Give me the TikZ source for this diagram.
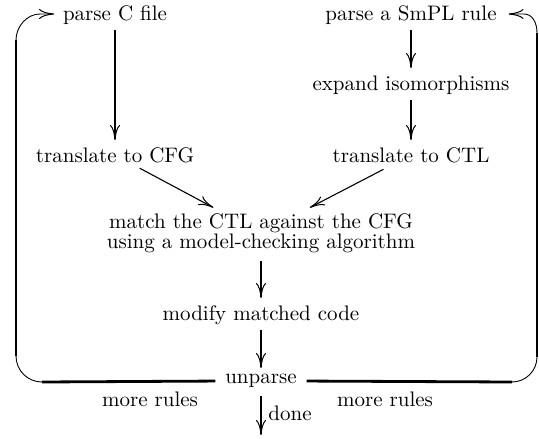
\documentclass[tikz,border=0pt]{standalone}
\usetikzlibrary{arrows.meta,calc}
\begin{document}
\begin{tikzpicture}[x=1pt,y=-1pt,
  txt/.style={font=\fontsize{10}{9.5}\selectfont, scale=2.1, inner sep=0pt, outer sep=0pt},
  tip/.style={-{Computer Modern Rightarrow[length=15pt,width=10pt,line width=1pt]}},
  heavy/.style={line width=2.8pt},
  light/.style={line width=0.9pt},
  diag/.style={line width=1.1pt}]
\useasboundingbox (0,0) rectangle (539,439);
% nodes
\node[txt] (pc)   at (115,15)  {parse C file};
\node[txt] (ps)   at (411,15)  {parse a SmPL rule};
\node[txt] (ex)   at (411,85)  {expand isomorphisms};
\node[txt] (tcfg) at (115,155) {translate to CFG};
\node[txt] (tctl) at (411,155) {translate to CTL};
\node[txt, align=center] (match) at (261,233) {match the CTL against the CFG\\using a model-checking algorithm};
\node[txt] (mod)  at (261,315) {modify matched code};
\node[txt] (unp)  at (261,381) {unparse};
\node[txt] (mrl)  at (150,399) {more rules};
\node[txt] (mrr)  at (385,399) {more rules};
\node[txt] (done) at (290,413) {done};
\coordinate (fin) at (261,435);
% corner points of the loops
\coordinate (lb1) at (42,382);
\coordinate (lb2) at (16,356);
\coordinate (lt1) at (16,40);
\coordinate (lt2) at (40,14);
\coordinate (rb1) at (512,382);
\coordinate (rb2) at (537,357);
\coordinate (rt1) at (537,33);
\coordinate (rt2) at (524,14);
% vertical arrows
\draw[heavy,tip,shorten <=15pt,shorten >=15pt] (pc.center) -- (tcfg.center);
\draw[heavy,tip,shorten <=15pt,shorten >=17pt] (ps.center) -- (ex.center);
\draw[heavy,tip,shorten <=15pt,shorten >=15pt] (ex.center) -- (tctl.center);
\draw[heavy,tip,shorten <=28pt,shorten >=17pt] (match.center) -- (mod.center);
\draw[heavy,tip,shorten <=15pt,shorten >=13pt] (mod.center) -- (unp.center);
\draw[heavy,tip,shorten <=15pt] (unp.center) -- (fin);
% diagonal arrows
\draw[diag,tip,shorten <=28pt,shorten >=54pt] (tcfg.center) -- (match.center);
\draw[diag,tip,shorten <=31pt,shorten >=55pt] (tctl.center) -- (match.center);
% left loop
\draw[heavy,shorten <=10pt] (unp.west) -- (lb1);
\draw[light] (lb1) .. controls (27.6,382) and (16,370.4) .. (lb2);
\draw[heavy] (lb2) -- (lt1);
\draw[light,tip,shorten >=9pt] (lt1) .. controls (16,26.7) and (26.7,14) .. (lt2) -- (lt2 -| pc.west);
% right loop
\draw[heavy,shorten <=10pt] (unp.east) -- (rb1);
\draw[light] (rb1) .. controls (525.8,382) and (537,370.8) .. (rb2);
\draw[heavy] (rb2) -- (rt1);
\draw[light,tip,shorten >=12pt] (rt1) .. controls (537,22) and (532,14) .. (rt2) -- (rt2 -| ps.east);
\end{tikzpicture}
\end{document}
